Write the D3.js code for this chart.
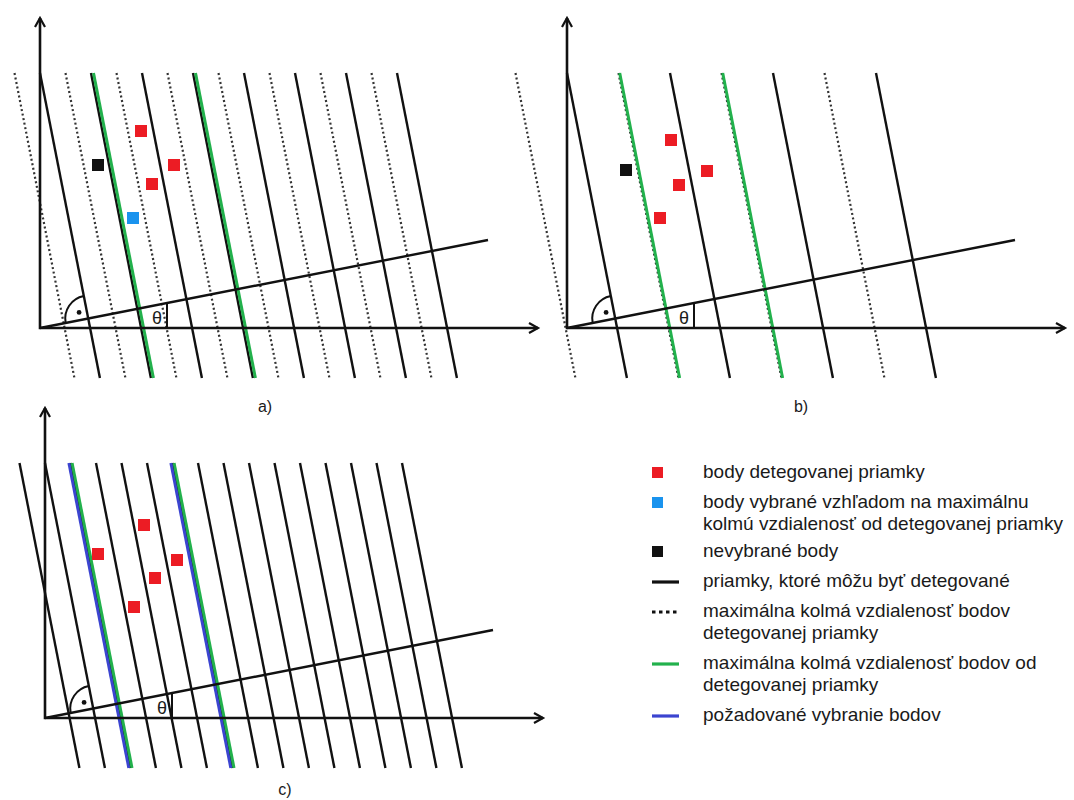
<!DOCTYPE html>
<html>
<head>
<meta charset="utf-8">
<script src="https://cdn.jsdelivr.net/npm/d3@7"></script>
<style>
  body { margin: 0; background: #fff; }
  text { font-family: "Liberation Sans", Arial, sans-serif; fill: #1a1a1a; }
</style>
</head>
<body>
<div id="chart"></div>
<script>
const tanTheta = 88 / 448;

// line offsets: x of each line at its top end, relative to the panel origin
const aSolid = [0, 51, 102, 153, 204, 255, 306, 357];
const aDotted = [-25.5, 25.5, 76.5, 127.5, 178.5, 229.5, 280.5, 331.5];
const aGreen = [51, 153];
const bSolid = [0, 103, 206, 309];
const bDotted = [-51.5, 51.5, 154.5, 257.5];
const bGreen = [51.5, 154.5];
const cSolid = [-25.5, 0, 25.5, 51, 76.5, 102, 127.5, 153, 178.5, 204, 229.5, 255, 280.5, 306, 331.5, 357];
const cGreen = [25.5, 127.5];
const cBlue = [25.5, 127.5];

// points [x, y, kind] relative to panel origin (y up)
const aPoints = [[101, 197, "red"], [134, 163, "red"], [112, 144, "red"], [58, 163, "black"], [93, 110, "blue"]];
const bPoints = [[104, 188, "red"], [59, 158, "black"], [140, 157, "red"], [112, 143, "red"], [93, 110, "red"]];
const cPoints = [[99, 193, "red"], [53, 164, "red"], [132, 158, "red"], [110, 140, "red"], [89, 111, "red"]];

const panelLabels = ["a)", "b)", "c)"];

const legendKinds = ["red", "blue", "black", "solid", "dotted", "green", "bluel"];
const legendTexts = [
  ["body detegovanej priamky"],
  ["body vybrané vzhľadom na maximálnu", "kolmú vzdialenosť od detegovanej priamky"],
  ["nevybrané body"],
  ["priamky, ktoré môžu byť detegované"],
  ["maximálna kolmá vzdialenosť bodov", "detegovanej priamky"],
  ["maximálna kolmá vzdialenosť bodov od", "detegovanej priamky"],
  ["požadované vybranie bodov"]
];

const colors = { red: "#ec1c24", blue: "#1a93ee", black: "#111", green: "#22b14c", bluel: "#3b44d0", line: "#111", dot: "#333" };

const layout = {
  width: 1074, height: 800,
  xMax: 498, yMax: 310, lineTop: 255, lineBottom: -50,
  sq: 12, arcR: 23
};

const panels = [
  { ox: 40, oy: 328, solid: aSolid, dotted: aDotted, green: aGreen, blue: [], points: aPoints, label: panelLabels[0], lx: 265, ly: 412, greenShift: 2.5 },
  { ox: 567, oy: 328, solid: bSolid, dotted: bDotted, green: bGreen, blue: [], points: bPoints, label: panelLabels[1], lx: 801, ly: 412, greenShift: 1.2 },
  { ox: 45, oy: 718, solid: cSolid, dotted: [], green: cGreen, blue: cBlue, points: cPoints, label: panelLabels[2], lx: 285, ly: 795, greenShift: 1.6 }
];

const svg = d3.select("#chart").append("svg")
  .attr("width", layout.width)
  .attr("height", layout.height);

function lineX(top, y) { return top + (layout.lineTop - y) * tanTheta; }

panels.forEach(p => {
  const x = d3.scaleLinear().domain([0, layout.xMax]).range([p.ox, p.ox + layout.xMax]);
  const y = d3.scaleLinear().domain([0, layout.yMax]).range([p.oy, p.oy - layout.yMax]);
  const g = svg.append("g");
  const seg = (top, shift) => d3.line()([
    [x(lineX(top, layout.lineTop)) + shift, y(layout.lineTop)],
    [x(lineX(top, layout.lineBottom)) + shift, y(layout.lineBottom)]
  ]);

  // dotted lines
  g.selectAll(".dotted").data(p.dotted).join("path")
    .attr("d", d => seg(d, 0))
    .attr("stroke", colors.dot).attr("stroke-width", 2.2)
    .attr("stroke-dasharray", "2,2.6").attr("fill", "none");

  // solid lines
  g.selectAll(".solid").data(p.solid).join("path")
    .attr("d", d => seg(d, 0))
    .attr("stroke", colors.line).attr("stroke-width", 2.4).attr("fill", "none");

  // blue selection lines (panel c)
  g.selectAll(".bluel").data(p.blue).join("path")
    .attr("d", d => seg(d, -p.greenShift))
    .attr("stroke", colors.bluel).attr("stroke-width", 3).attr("fill", "none");

  // green lines
  g.selectAll(".green").data(p.green).join("path")
    .attr("d", d => seg(d, p.greenShift))
    .attr("stroke", colors.green).attr("stroke-width", 3).attr("fill", "none");

  // axes with arrows
  g.append("path")
    .attr("d", d3.line()([[x(0), y(layout.yMax)], [x(0), y(0)], [x(layout.xMax), y(0)]]))
    .attr("stroke", "#111").attr("stroke-width", 2.6).attr("fill", "none");
  g.append("path")
    .attr("d", `M${x(0) - 5},${y(layout.yMax) + 9}L${x(0)},${y(layout.yMax)}L${x(0) + 5},${y(layout.yMax) + 9}`
      + `M${x(layout.xMax) - 9},${y(0) - 5}L${x(layout.xMax)},${y(0)}L${x(layout.xMax) - 9},${y(0) + 5}`)
    .attr("stroke", "#111").attr("stroke-width", 2.2).attr("fill", "none");

  // normal line through the origin
  g.append("path")
    .attr("d", d3.line()([[x(0), y(0)], [x(448), y(448 * tanTheta)]]))
    .attr("stroke", "#111").attr("stroke-width", 2.4).attr("fill", "none");

  // right-angle marker at the foot of the normal on the first line
  const cos = 1 / Math.sqrt(1 + tanTheta * tanTheta), sin = tanTheta * cos;
  const d0 = layout.lineTop * tanTheta * cos;
  const fx = x(d0 * cos), fy = y(d0 * sin);
  const r = layout.arcR;
  const p1 = [fx - r * cos, fy + r * sin], p2 = [fx - r * sin, fy - r * cos];
  g.append("path")
    .attr("d", `M${p1[0]},${p1[1]}A${r},${r} 0 0 1 ${p2[0]},${p2[1]}`)
    .attr("stroke", "#111").attr("stroke-width", 2).attr("fill", "none");
  g.append("circle")
    .attr("cx", fx + 11 * (-cos - sin) / Math.SQRT2)
    .attr("cy", fy + 11 * (sin - cos) / Math.SQRT2)
    .attr("r", 2.4).attr("fill", "#111");

  // theta marker
  g.append("path")
    .attr("d", d3.line()([[x(127), y(0)], [x(127), y(127 * tanTheta)]]))
    .attr("stroke", "#111").attr("stroke-width", 2).attr("fill", "none");
  g.append("text")
    .attr("x", x(117)).attr("y", y(0) - 4)
    .attr("text-anchor", "middle").attr("font-size", 18)
    .text("θ");

  // points
  g.selectAll(".pt").data(p.points).join("rect")
    .attr("x", d => x(d[0]) - layout.sq / 2)
    .attr("y", d => y(d[1]) - layout.sq / 2)
    .attr("width", layout.sq).attr("height", layout.sq)
    .attr("fill", d => colors[d[2]]);

  // panel label
  svg.append("text")
    .attr("x", p.lx).attr("y", p.ly)
    .attr("text-anchor", "middle").attr("font-size", 16)
    .text(p.label);
});

// legend
const legendRows = [478, 508, 557, 587, 617, 669, 721];
const legend = svg.append("g");
legendKinds.forEach((k, i) => {
  const ry = legendRows[i];
  if (k === "red" || k === "blue" || k === "black") {
    legend.append("rect")
      .attr("x", 652).attr("y", ry - 11)
      .attr("width", 11).attr("height", 11)
      .attr("fill", colors[k]);
  } else {
    const stroke = k === "solid" || k === "dotted" ? "#111" : colors[k];
    legend.append("path")
      .attr("d", d3.line()([[652, ry - 5], [679, ry - 5]]))
      .attr("stroke", stroke).attr("stroke-width", 3.2)
      .attr("stroke-dasharray", k === "dotted" ? "3.5,3.5" : null);
  }
  legend.append("text")
    .attr("x", 703).attr("y", ry)
    .attr("font-size", 19)
    .selectAll("tspan").data(legendTexts[i]).join("tspan")
    .attr("x", 703).attr("dy", (d, j) => j === 0 ? 0 : 22)
    .text(d => d);
});
</script>
</body>
</html>
